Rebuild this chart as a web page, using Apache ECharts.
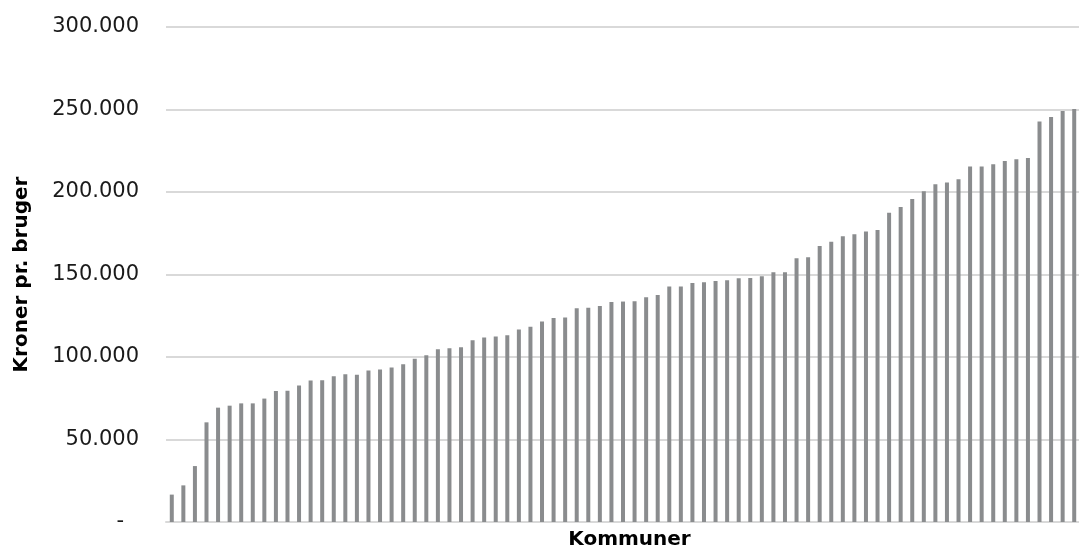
<!DOCTYPE html>
<html>
<head>
<meta charset="utf-8">
<script src="https://cdn.jsdelivr.net/npm/echarts@6/dist/echarts.min.js"></script>
<style>
html,body{margin:0;padding:0;background:#fff;}
#chart{width:1079px;height:549px;}
</style>
</head>
<body>
<div id="chart"></div>
<script>
// Values per kommune (kroner pr. bruger), sorted ascending
const values = [
  16600, 22200, 33900, 60400, 69300, 70500, 71900, 71900, 74800, 79400,
  79600, 82700, 85700, 85900, 88300, 89500, 89300, 91800, 92500, 93600,
  95600, 99000, 101000, 104700, 105300, 105900, 110100, 111800, 112400, 113200,
  116600, 118400, 121500, 123600, 123900, 129500, 129900, 130900, 133300, 133600,
  133800, 136200, 137600, 142700, 142800, 144800, 145300, 146100, 146500, 147700,
  147900, 148900, 151300, 151300, 159800, 160400, 167300, 169800, 173200, 174400,
  176000, 177000, 187500, 190900, 195800, 200400, 204700, 205700, 207700, 215400,
  215400, 216800, 218800, 219800, 220600, 242700, 245500, 249100, 250300
];
const categories = values.map((v, i) => 'Kommune ' + (i + 1));
const yTicks = [0, 50000, 100000, 150000, 200000, 250000, 300000];
const yTitle = 'Kroner pr. bruger';
const xTitle = 'Kommuner';

function fmt(v) {
  if (v === 0) return '{z|-}';
  return String(v).replace(/\B(?=(\d{3})+(?!\d))/g, '.');
}

const chart = echarts.init(document.getElementById('chart'), null, {renderer: 'canvas'});
chart.setOption({
  animation: false,
  backgroundColor: '#ffffff',
  grid: {left: 166, right: -1, top: 27, bottom: 27, containLabel: false, outerBoundsMode: 'none'},
  xAxis: {
    type: 'category',
    data: categories,
    axisTick: {show: false},
    axisLabel: {show: false},
    axisLine: {show: true, lineStyle: {color: '#d9d9d9', width: 2}},
    name: xTitle,
    nameLocation: 'middle',
    nameGap: 8,
    nameTextStyle: {
      fontFamily: 'DejaVu Sans', fontWeight: 'bold', fontSize: 20, color: '#000',
      verticalAlign: 'top', padding: [0, 0, 0, 13]
    }
  },
  yAxis: {
    type: 'value',
    min: yTicks[0],
    max: yTicks[yTicks.length - 1],
    interval: yTicks[1] - yTicks[0],
    axisLine: {show: false},
    axisTick: {show: false},
    splitLine: {show: true, lineStyle: {color: '#d9d9d9', width: 2}},
    axisLabel: {
      formatter: fmt,
      margin: 27,
      fontFamily: 'DejaVu Sans',
      fontSize: 21,
      color: '#1a1a1a',
      rich: {z: {fontFamily: 'DejaVu Sans', fontSize: 21, color: '#1a1a1a', padding: [0, 15, 0, 0]}}
    },
    name: yTitle,
    nameLocation: 'middle',
    nameGap: 134,
    nameRotate: 90,
    nameTextStyle: {fontFamily: 'DejaVu Sans', fontWeight: 'bold', fontSize: 20, color: '#000'}
  },
  series: [{
    type: 'bar',
    data: values,
    barWidth: 4,
    itemStyle: {color: '#8a8c8e'}
  }]
});
</script>
</body>
</html>
